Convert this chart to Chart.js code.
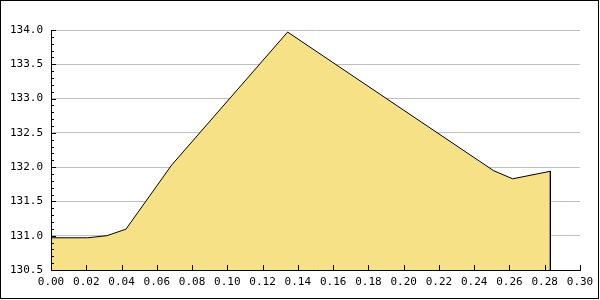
<!DOCTYPE html>
<html>
<head>
<meta charset="utf-8">
<script src="https://cdn.jsdelivr.net/npm/chart.js@4.4.0/dist/chart.umd.min.js"></script>
<style>
  html, body { margin: 0; padding: 0; background: #fff; }
  #wrap { width: 600px; height: 300px; }
</style>
</head>
<body>
<div id="wrap"><canvas id="chart" width="600" height="300"></canvas></div>
<script>
// values
const xValues = [0, 0.0208, 0.0316, 0.0425, 0.0684, 0.1342, 0.2509, 0.2618, 0.2832, 0.2832];
const yValues = [130.97, 130.97, 131.0, 131.095, 132.03, 133.97, 131.95, 131.83, 131.94, 130.5];
const xTicks = [0, 0.02, 0.04, 0.06, 0.08, 0.10, 0.12, 0.14, 0.16, 0.18, 0.20, 0.22, 0.24, 0.26, 0.28, 0.30];
const yTicks = [130.5, 131.0, 131.5, 132.0, 132.5, 133.0, 133.5, 134.0];
const yMinorStep = 0.1;

const FONT = { family: "'DejaVu Sans Mono', monospace", size: 11 };

const points = xValues.map((x, i) => ({ x: x, y: yValues[i] }));

// axis ticks pointing into the plot, plus the outer frame
const tickPlugin = {
  id: 'inwardTicks',
  afterDraw(chart) {
    const ctx = chart.ctx;
    const xs = chart.scales.x;
    const ys = chart.scales.y;
    const area = chart.chartArea;
    ctx.save();
    ctx.strokeStyle = '#000';
    ctx.lineWidth = 1;
    ctx.beginPath();
    // axis lines
    ctx.moveTo(Math.round(area.left) + 0.5, area.top);
    ctx.lineTo(Math.round(area.left) + 0.5, Math.round(area.bottom) + 0.5);
    ctx.lineTo(area.right + 1, Math.round(area.bottom) + 0.5);
    // y ticks, major and minor
    for (let v = yTicks[0]; v <= yTicks[yTicks.length - 1] + 1e-9; v += yMinorStep) {
      const py = Math.round(ys.getPixelForValue(v)) + 0.5;
      const major = yTicks.some(t => Math.abs(t - v) < 1e-6);
      ctx.moveTo(area.left, py);
      ctx.lineTo(area.left + (major ? 5 : 3), py);
    }
    // x ticks
    xTicks.forEach(v => {
      const px = Math.round(xs.getPixelForValue(v)) + 0.5;
      ctx.moveTo(px, area.bottom);
      ctx.lineTo(px, area.bottom - 5);
    });
    ctx.stroke();
    ctx.strokeRect(0.5, 0.5, 598, 298);
    ctx.restore();
  }
};

new Chart(document.getElementById('chart'), {
  type: 'line',
  data: {
    datasets: [{
      data: points,
      borderColor: '#000',
      borderWidth: 1,
      backgroundColor: 'rgb(247, 225, 135)',
      fill: 'start',
      pointRadius: 0,
      tension: 0
    }]
  },
  options: {
    responsive: false,
    animation: false,
    events: [],
    layout: { padding: { left: 0, right: 20, top: 30, bottom: 0 } },
    plugins: {
      legend: { display: false },
      tooltip: { enabled: false }
    },
    scales: {
      x: {
        type: 'linear',
        min: 0,
        max: 0.30,
        afterBuildTicks: s => { s.ticks = xTicks.map(v => ({ value: v })); },
        afterFit: s => { s.height = 30; },
        grid: { display: false, drawTicks: false },
        border: { display: false },
        ticks: {
          color: '#000',
          font: FONT,
          padding: 6,
          maxRotation: 0,
          autoSkip: false,
          callback: v => v.toFixed(2)
        }
      },
      y: {
        min: 130.5,
        max: 134.0,
        afterBuildTicks: s => { s.ticks = yTicks.map(v => ({ value: v })); },
        afterFit: s => { s.width = 51; },
        grid: { color: '#c0c0c0', lineWidth: 1, drawTicks: false },
        border: { display: false },
        ticks: {
          color: '#000',
          font: FONT,
          padding: 8,
          autoSkip: false,
          callback: v => v.toFixed(1)
        }
      }
    }
  },
  plugins: [tickPlugin]
});
</script>
</body>
</html>
